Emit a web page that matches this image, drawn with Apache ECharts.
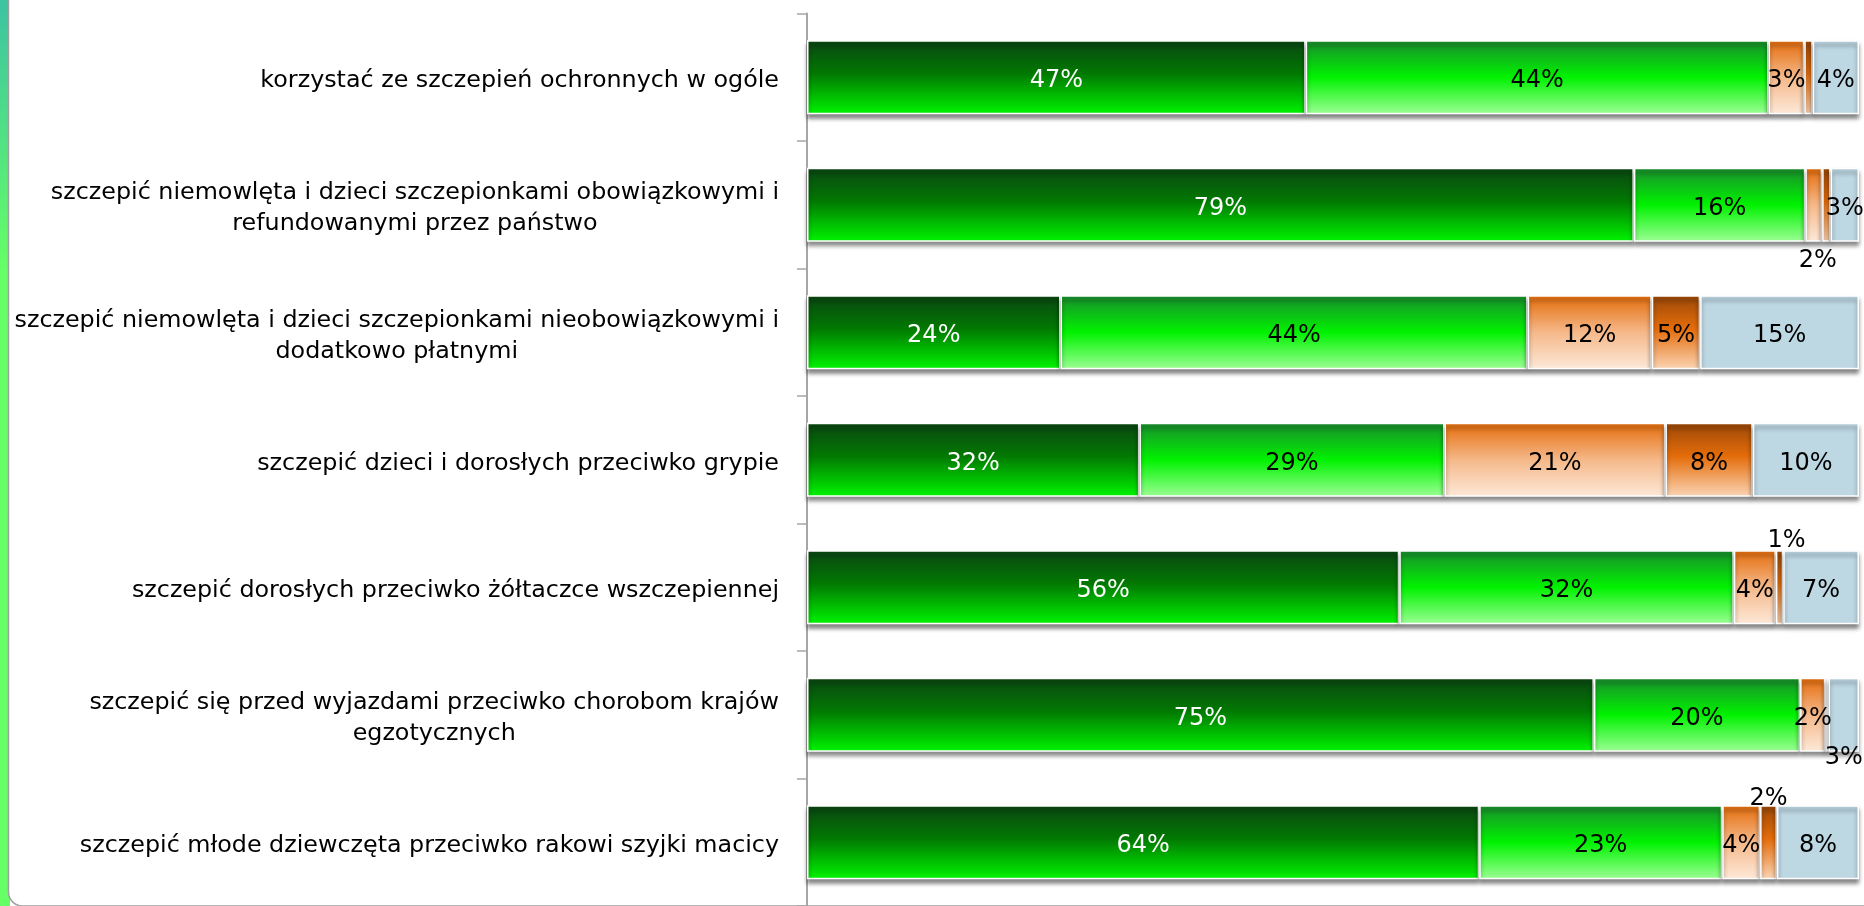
<!DOCTYPE html>
<html>
<head>
<meta charset="utf-8">
<script src="https://cdn.jsdelivr.net/npm/echarts@6/dist/echarts.min.js"></script>
<style>
html,body{margin:0;padding:0;background:#fff;}
#chart{width:1864px;height:906px;}
</style>
</head>
<body>
<div id="chart"></div>
<script>
const categories = [
  'korzystać ze szczepień ochronnych w ogóle',
  'szczepić niemowlęta i dzieci szczepionkami obowiązkowymi i\nrefundowanymi przez państwo',
  'szczepić niemowlęta i dzieci szczepionkami nieobowiązkowymi i\ndodatkowo płatnymi',
  'szczepić dzieci i dorosłych przeciwko grypie',
  'szczepić dorosłych przeciwko żółtaczce wszczepiennej',
  'szczepić się przed wyjazdami przeciwko chorobom krajów\negzotycznych',
  'szczepić młode dziewczęta przeciwko rakowi szyjki macicy'
];
const seriesNames = ['zdecydowanie tak', 'raczej tak', 'raczej nie', 'zdecydowanie nie', 'trudno powiedzieć'];
const zdecydowanieTak = [47.4, 78.6, 24.1, 31.6, 56.3, 74.8, 63.9];
const raczejTak = [44.0, 16.3, 44.4, 29.0, 31.8, 19.6, 23.1];
const raczejNie = [3.4, 1.6, 11.8, 21.0, 4.0, 2.4, 3.6];
const zdecydowanieNie = [0.8, 0.8, 4.6, 8.3, 0.7, 0.3, 1.6];
const trudnoPowiedziec = [4.4, 2.7, 15.1, 10.1, 7.2, 2.9, 7.8];
const allValues = [zdecydowanieTak, raczejTak, raczejNie, zdecydowanieNie, trudnoPowiedziec];

const G = echarts.graphic.LinearGradient;
const fills = [
  new G(0,0,0,1,[{offset:0,color:'#0a4612'},{offset:0.45,color:'#027802'},{offset:1,color:'#00f500'}]),
  new G(0,0,0,1,[{offset:0,color:'#1a8c2e'},{offset:0.5,color:'#00f200'},{offset:1,color:'#9cff94'}]),
  new G(0,0,0,1,[{offset:0,color:'#e46c0a'},{offset:0.5,color:'#f5b889'},{offset:1,color:'#fde9d9'}]),
  new G(0,0,0,1,[{offset:0,color:'#9a4808'},{offset:0.45,color:'#e46c0a'},{offset:1,color:'#fbd5b5'}]),
  '#bdd7e3'
];
const labelColors = ['#ffffff', '#000000', '#000000', '#000000', '#000000'];

// label placement tweaks: 'seriesIndex-rowIndex' -> option
const hiddenLabels = {'3-0':1, '3-1':1, '3-5':1};
const movedLabels = {
  '2-1': {position:'bottom', distance:7, offset:[4,0]},
  '3-4': {position:'top', distance:-3, offset:[7,0]},
  '3-6': {position:'top', distance:-1.5},
  '4-5': {position:'inside', offset:[0,43.5]}
};

const series = allValues.map((arr, si) => ({
  name: seriesNames[si],
  type: 'bar',
  stack: 'total',
  barWidth: 74,
  itemStyle: {
    color: fills[si],
    borderColor: '#ffffff',
    borderWidth: 1.5,
    shadowColor: 'rgba(0,0,0,0.45)',
    shadowBlur: 4,
    shadowOffsetY: 4
  },
  label: {
    show: true,
    position: 'inside',
    offset: [0, 4],
    color: labelColors[si],
    fontFamily: 'DejaVu Sans',
    fontSize: 24,
    formatter: p => Math.round(p.value) + '%'
  },
  data: arr.map((v, i) => {
    const key = si + '-' + i;
    const item = {value: v};
    if (hiddenLabels[key]) item.label = {show: false};
    else if (movedLabels[key]) item.label = Object.assign({color: '#000000'}, movedLabels[key]);
    return item;
  })
}));

const chart = echarts.init(document.getElementById('chart'), null, {renderer: 'canvas'});
chart.setOption({
  animation: false,
  backgroundColor: '#ffffff',
  graphic: [
    {type:'rect', z:-10, shape:{x:0, y:0, width:10, height:906},
     style:{fill: new G(0,0,0,1,[{offset:0,color:'#3cc3a2'},{offset:0.3,color:'#66ff66'},{offset:1,color:'#66ff66'}])}},
    {type:'rect', z:-9, shape:{x:8.5, y:-30, width:1900, height:936, r:14},
     style:{fill:'#ffffff', stroke:'#a0a0a0', lineWidth:1.5}}
  ],
  grid: {left: 807, top: 13.5, height: 902, right: 5, containLabel: false},
  xAxis: {
    type: 'value', min: 0, max: 100,
    axisLine: {show: false}, axisTick: {show: false},
    axisLabel: {show: false}, splitLine: {show: false}
  },
  yAxis: {
    type: 'category',
    inverse: true,
    data: categories,
    axisLine: {show: true, lineStyle: {color: '#a6a6a6', width: 2}},
    axisTick: {show: true, length: 10, lineStyle: {color: '#a6a6a6', width: 1.5}},
    axisLabel: {
      margin: 28,
      padding: [8, 0, 0, 0],
      fontFamily: 'DejaVu Sans',
      fontSize: 23.8,
      color: '#000000',
      lineHeight: 31,
      formatter: v => v.split('\n').map(l => '{c|' + l + '}').join('\n'),
      rich: {c: {align: 'center', fontFamily: 'DejaVu Sans', fontSize: 23.8, lineHeight: 31, color: '#000000'}}
    }
  },
  series: series
});
</script>
</body>
</html>
